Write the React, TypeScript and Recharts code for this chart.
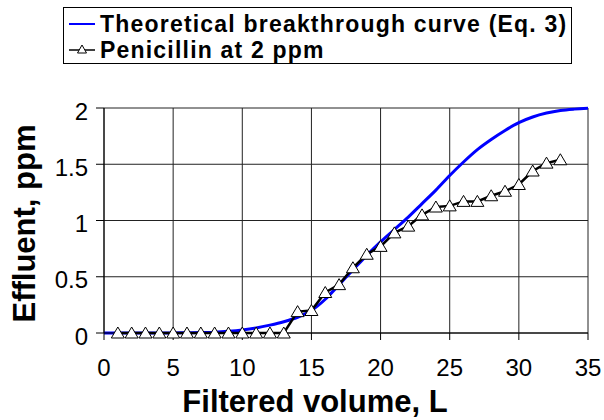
import React from 'react';
import { LineChart, Line, XAxis, YAxis, CartesianGrid, Legend, Label } from 'recharts';

const theoryVolume = [0, 1, 2, 3, 4, 5, 6, 7, 8, 9, 10, 11, 12, 13, 14, 15, 16, 17, 18, 19, 20, 21, 22, 23, 24, 25, 26, 27, 28, 29, 30, 31, 32, 33, 34, 35];
const theoryEffluent = [0, 0, 0, 0, 0, 0.001, 0.002, 0.004, 0.007, 0.015, 0.027, 0.045, 0.07, 0.1, 0.14, 0.2, 0.3, 0.43, 0.56, 0.69, 0.81, 0.92, 1.03, 1.15, 1.27, 1.4, 1.52, 1.63, 1.72, 1.8, 1.87, 1.92, 1.955, 1.978, 1.99, 1.997];

const sampleVolume = [1, 2, 3, 4, 5, 6, 7, 8, 9, 10, 11, 12, 13, 14, 15, 16, 17, 18, 19, 20, 21, 22, 23, 24, 25, 26, 27, 28, 29, 30, 31, 32, 33];
const penicillinEffluent = [0, 0, 0, 0, 0, 0, 0, 0, 0, 0, 0, 0, 0, 0.19, 0.2, 0.36, 0.43, 0.58, 0.7, 0.77, 0.89, 0.95, 1.05, 1.12, 1.13, 1.17, 1.17, 1.22, 1.26, 1.32, 1.44, 1.51, 1.54];

const xTicks = [0, 5, 10, 15, 20, 25, 30, 35];
const yTicks = [0, 0.5, 1, 1.5, 2];
const theoryName = 'Theoretical breakthrough curve (Eq. 3)';
const penicillinName = 'Penicillin at 2 ppm';
const xTitle = 'Filtered volume, L';
const yTitle = 'Effluent, ppm';

const theoryData = theoryVolume.map((v, i) => ({ volume: v, effluent: theoryEffluent[i] }));
const sampleData = sampleVolume.map((v, i) => ({ volume: v, effluent: penicillinEffluent[i] }));

const FONT = '"Liberation Sans", Arial, sans-serif';

const TriangleDot = (props: any) => {
  const { cx, cy, index } = props;
  if (cx == null || cy == null) return null;
  return (
    <polygon
      key={`tri-${index}`}
      points={`${cx},${cy - 6} ${cx + 6.5},${cy + 5} ${cx - 6.5},${cy + 5}`}
      fill="#ffffff"
      stroke="#000000"
      strokeWidth={1}
    />
  );
};

const LegendBox = () => (
  <div
    style={{
      width: 507,
      height: 55,
      border: '1px solid #000',
      background: '#fff',
      fontFamily: FONT,
      fontWeight: 'bold',
      fontSize: 23,
      letterSpacing: 1.2,
      color: '#000',
      boxSizing: 'content-box',
      whiteSpace: 'nowrap',
    }}
  >
    <div style={{ display: 'flex', alignItems: 'center', height: 26, marginTop: 3 }}>
      <svg width={36} height={26} style={{ flex: 'none' }}>
        <line x1={5} y1={13} x2={31} y2={13} stroke="#0000ff" strokeWidth={2} />
      </svg>
      <span style={{ lineHeight: '26px' }}>{theoryName}</span>
    </div>
    <div style={{ display: 'flex', alignItems: 'center', height: 26 }}>
      <svg width={36} height={26} style={{ flex: 'none' }}>
        <line x1={5} y1={13} x2={31} y2={13} stroke="#000" strokeWidth={1.5} />
        <polygon points="18,8 22.5,16 13.5,16" fill="#fff" stroke="#000" strokeWidth={1} />
      </svg>
      <span style={{ lineHeight: '26px' }}>{penicillinName}</span>
    </div>
  </div>
);

export default function App() {
  return (
    <div style={{ position: 'absolute', left: 0, top: 0, width: 604, height: 420, background: '#fff' }}>
      <LineChart width={604} height={420} margin={{ top: 108, right: 16, bottom: 27, left: 24 }}>
        <CartesianGrid stroke="#222" strokeWidth={1} horizontalValues={yTicks} verticalValues={xTicks} />
        <XAxis
          type="number"
          dataKey="volume"
          domain={[0, 35]}
          ticks={xTicks}
          allowDataOverflow
          height={60}
          stroke="#000"
          tickSize={7}
          tickMargin={19}
          tick={{ fill: '#000', fontSize: 24, fontFamily: FONT }}
        >
          <Label
            content={(p: any) => {
              const vb = p.viewBox || { x: 104, width: 484, y: 333 };
              return (
                <text
                  x={vb.x + vb.width / 2 - 31}
                  y={vb.y + 79}
                  textAnchor="middle"
                  fontFamily={FONT}
                  fontWeight="bold"
                  fontSize={31}
                  fill="#000"
                >
                  {xTitle}
                </text>
              );
            }}
          />
        </XAxis>
        <YAxis
          type="number"
          dataKey="effluent"
          domain={[0, 2]}
          ticks={yTicks}
          width={80}
          stroke="#000"
          tickSize={8}
          tickMargin={8}
          tick={{ fill: '#000', fontSize: 24, fontFamily: FONT, dy: 3 }}
        >
          <Label
            content={(p: any) => {
              const vb = p.viewBox || { x: 24, y: 108, height: 225 };
              const cx = 24;
              const cy = vb.y + vb.height / 2 + 3;
              return (
                <text
                  x={cx}
                  y={cy}
                  transform={`rotate(-90 ${cx} ${cy})`}
                  textAnchor="middle"
                  dominantBaseline="central"
                  fontFamily={FONT}
                  fontWeight="bold"
                  fontSize={31}
                  fill="#000"
                >
                  {yTitle}
                </text>
              );
            }}
          />
        </YAxis>
        <Legend
          layout="horizontal"
          verticalAlign="middle"
          align="center"
          wrapperStyle={{ top: 7, left: 63, width: 'auto' }}
          content={() => <LegendBox />}
        />
        <Line
          data={theoryData}
          dataKey="effluent"
          name={theoryName}
          type="monotone"
          stroke="#0000ff"
          strokeWidth={3}
          dot={false}
          isAnimationActive={false}
        />
        <Line
          data={sampleData}
          dataKey="effluent"
          name={penicillinName}
          type="linear"
          stroke="#000"
          strokeWidth={2.5}
          dot={TriangleDot}
          activeDot={false}
          isAnimationActive={false}
        />
      </LineChart>
    </div>
  );
}
